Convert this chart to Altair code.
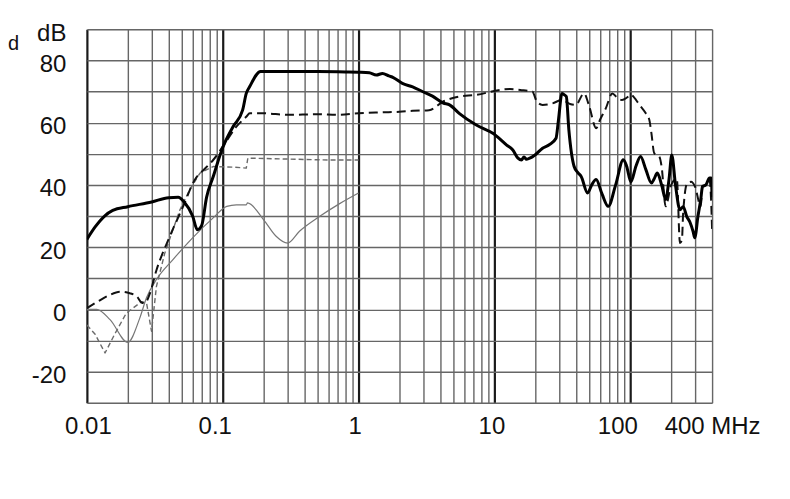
import altair as alt
import pandas as pd

# ---- data ----
freq_a = [0.01, 0.0115, 0.0135, 0.0155, 0.02, 0.03, 0.04, 0.047, 0.052, 0.06, 0.065, 0.07, 0.076, 0.085,
          0.1, 0.119, 0.14, 0.149, 0.158, 0.19, 0.3, 0.5, 0.8, 1.0, 1.2, 1.35, 1.5, 1.67, 1.8, 2.1,
          2.5, 2.95, 3.5, 4.2, 4.67, 5.5, 7.3, 9.8, 12.3, 13.6, 14.9, 15.8, 16.5, 17.2, 18, 19, 20,
          22.6, 25.3, 28.4, 29.6, 31.4, 32.5, 33.8, 35.3, 38.6, 41, 43.5, 48.5, 52, 56, 62, 68.8,
          78, 88.8, 94, 101, 110, 119, 130, 143, 150, 158, 170, 182, 193, 202, 215, 232, 245, 260,
          275, 290, 298, 315, 330, 340, 360, 383, 394, 400]
db_a = [22.5, 26.5, 30, 31.8, 33, 34.5, 35.9, 36, 34.5, 30, 25.6, 27, 36, 42.6,
        52, 58.7, 64, 69.4, 71.6, 76.4, 76.4, 76.4, 76.3, 76.2, 76, 75.3, 75.8, 75, 74.5, 72.6,
        71.5, 70, 68.5, 66.3, 65.7, 63, 59.3, 56.5, 52.8, 51.3, 48.6, 48, 49, 48.2, 48.5, 49, 49.7,
        51.8, 52.9, 55, 60.9, 69.4, 69, 68.4, 57.7, 45.9, 44, 42.7, 37.4, 40, 41.7, 37, 33.1,
        40, 48.1, 46, 41, 46, 49.1, 45, 40.6, 42, 43.8, 40, 35.3, 42, 49.6, 40, 32, 33, 29.9,
        28, 25, 23, 30, 35.3, 39.5, 40, 42.2, 42.2, 36]

freq_b = [0.01, 0.012, 0.0145, 0.0175, 0.0207, 0.0235, 0.0252, 0.0267, 0.029, 0.0325, 0.0396,
          0.051, 0.062, 0.075, 0.085, 0.1, 0.126, 0.149, 0.158, 0.2, 0.3, 0.5, 0.7, 1.0, 1.5, 2.0,
          2.5, 3.3, 4.2, 5.5, 7.3, 10.9, 13, 15.5, 19, 20.5, 22.6, 26.8, 31.4, 36, 39.7, 45.6, 49.9,
          56, 60, 66, 73.8, 80, 86.5, 96.7, 100, 117, 130, 138, 143, 150, 158, 164, 170, 182, 200,
          220, 232, 240, 245, 262, 280, 300, 330, 340, 360, 383, 395, 400]
db_b = [0.4, 2.5, 4.5, 5.7, 5.2, 4, 2.2, 2, 5, 12.6, 22.2,
        33, 41.5, 45.5, 48, 52.3, 58.7, 61.9, 63, 63, 62.5, 62.7, 62.5, 63, 63.3, 63.5,
        63.8, 64, 66.8, 68.4, 68.9, 70.5, 70.8, 70.5, 70, 66.8, 65.7, 66.2, 67.3, 66, 65.7, 69.4, 65.2,
        58.2, 61, 64.6, 69.4, 68, 67.3, 68.4, 69, 65.7, 63, 60.9, 56.6, 50.2, 49.6, 49, 45.9, 33.1, 40,
        42, 21.3, 22.4, 31, 40.5, 41, 39.4, 33.1, 39.5, 40, 41.5, 33, 25.6]

freq_c = [0.01, 0.0115, 0.0136, 0.016, 0.0195, 0.0253, 0.0275, 0.0299, 0.0325, 0.0374, 0.0483,
          0.057, 0.068, 0.085, 0.12, 0.149, 0.153, 0.3, 0.6, 1.0]
db_c = [-5, -8, -14, -8, -1.2, 2.5, 2, -7, 7.4, 18, 31.9,
        38.4, 43.8, 45.9, 45.7, 45.4, 48.6, 48.3, 48, 48]

freq_d = [0.01, 0.0118, 0.0148, 0.02, 0.0245, 0.0275, 0.0325, 0.043, 0.06, 0.085, 0.107, 0.126,
          0.149, 0.152, 0.2, 0.247, 0.3, 0.367, 0.518, 0.72, 1.0]
db_d = [0, 0, -3.3, -10.6, -2.8, 3.8, 9.6, 16, 23, 29.4, 33.1, 33.6,
        33.6, 34.2, 28.8, 23.5, 21.3, 25.1, 29.9, 33.9, 37.4]

x_grid = [m * 10 ** e for e in range(-2, 3) for m in range(1, 10)] + [400]
x_grid = [round(v, 6) for v in x_grid]
x_labels = [0.01, 0.1, 1, 10, 100, 400]
x_label_text = ["0.01", "0.1", "1", "10", "100", "400 MHz"]
x_label_shift = [1, -8, -4, -3, -13, 0]
decades = [0.01, 0.1, 1, 10, 100]
y_grid = list(range(-30, 91, 10))

FONT = "Liberation Sans"

label_expr = " : ".join(
    f"datum.value == {v} ? '{t}'" for v, t in zip(x_labels, x_label_text)) + " : ''"
dec_test = " || ".join(f"datum.value == {v}" for v in decades)

x_axis = alt.Axis(
    values=x_grid, labelExpr=label_expr, title=None, ticks=False, domain=False,
    grid=True,
    gridColor={"condition": {"test": dec_test, "value": "#1a1a1a"}, "value": "#666666"},
    gridWidth={"condition": {"test": dec_test, "value": 2.2}, "value": 1.4},
    labelFont=FONT, labelFontSize=24, labelColor="#111", labelPadding=12,
    labelFlush=False, labelOverlap=False, labelBound=False,
    labelOffset={"condition": [{"test": f"datum.value == {v}", "value": s}
                               for v, s in zip(x_labels, x_label_shift)], "value": 0},
)
y_axis = alt.Axis(
    values=y_grid, title=None, ticks=False, domain=False, grid=True,
    gridColor="#666666", gridWidth=1.4,
    labelExpr="datum.value == 90 ? 'dB' : (datum.value % 20 == 0 ? '' + datum.value : '')",
    labelFont=FONT, labelFontSize=24, labelColor="#111", labelPadding=21,
    labelOffset=4, labelOverlap=False, labelBound=False, labelFlush=False,
)

xs = alt.Scale(type="log", domain=[0.01, 400], nice=False)
ys = alt.Scale(domain=[-30, 90], nice=False, zero=False)


def layer(freq, db, color, width, dash=None, interp="linear"):
    df = pd.DataFrame({"f": freq, "db": db})
    kw = dict(color=color, strokeWidth=width, clip=True, strokeJoin="round",
              strokeCap="butt", interpolate=interp)
    if dash:
        kw["strokeDash"] = dash
    return alt.Chart(df).mark_line(**kw).encode(
        x=alt.X("f:Q", scale=xs, axis=x_axis),
        y=alt.Y("db:Q", scale=ys, axis=y_axis),
    )


d_text = alt.Chart(pd.DataFrame({"t": ["d"]})).mark_text(
    font=FONT, fontSize=20, align="left", baseline="alphabetic", color="#111"
).encode(text="t:N", x=alt.value(-79), y=alt.value(21))

chart = alt.layer(
    layer(freq_d, db_d, "#777777", 1.2, interp="monotone"),
    layer(freq_c, db_c, "#6a6a6a", 1.4, [5, 3]),
    layer(freq_b, db_b, "#111111", 2.0, [9, 5], interp="monotone"),
    layer(freq_a, db_a, "#000000", 3.0, interp="monotone"),
    d_text,
).properties(
    width=626, height=374,
    autosize=alt.AutoSizeParams(type="none"),
    padding={"left": 79, "top": 21, "right": 70, "bottom": 60},
).configure_view(stroke=None).configure(background="white")

chart.save("out.html", embed_options={"renderer": "svg", "actions": False})
